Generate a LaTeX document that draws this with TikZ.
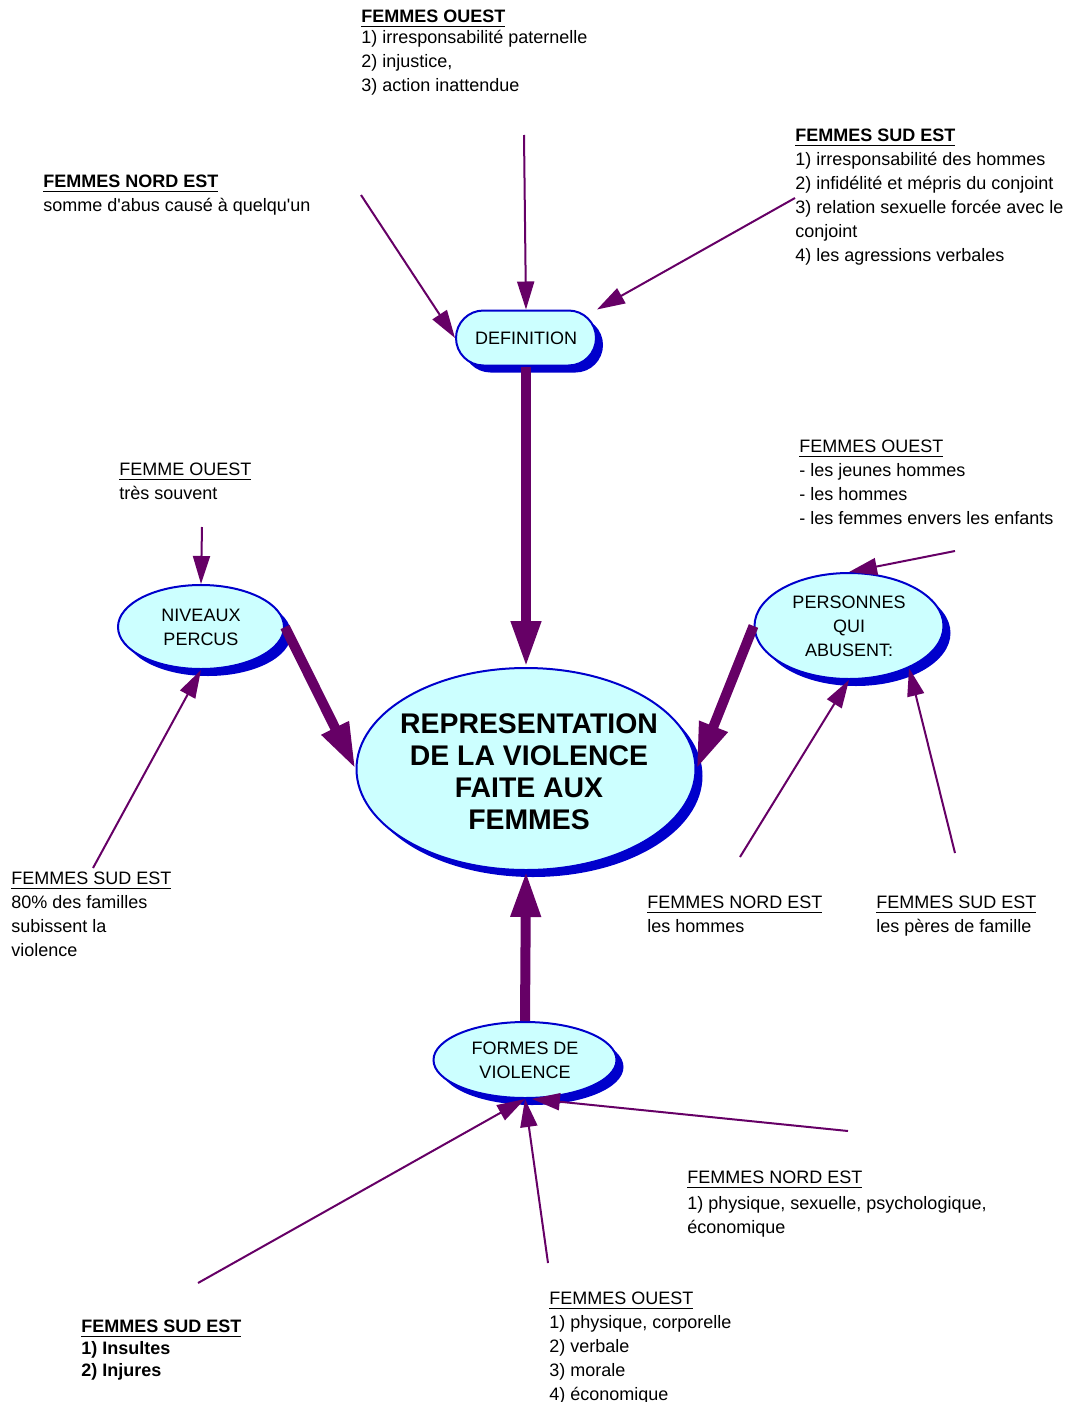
\documentclass[tikz,border=0pt]{standalone}
\usepackage{fontspec}
\setmainfont{Liberation Sans}
\usetikzlibrary{arrows.meta,shapes.geometric,shadows}
\definecolor{violetfleche}{HTML}{660066}
\definecolor{bleubord}{HTML}{0000CC}
\definecolor{cyanfond}{HTML}{CCFFFF}

\begin{document}
\begin{tikzpicture}[x=0.5pt,y=-0.5pt,
	ombre/.style={drop shadow={shadow xshift=3.5pt,shadow yshift=-3.5pt,fill=bleubord,opacity=1}},
	bulle/.style={ellipse,draw=bleubord,line width=1pt,fill=cyanfond,inner sep=0pt,align=center,
	font=\fontsize{9}{12}\selectfont,ombre},
	cadre/.style={rectangle,rounded corners=13.75pt,draw=bleubord,line width=1pt,fill=cyanfond,
	minimum width=70pt,minimum height=27.5pt,inner sep=0pt,font=\fontsize{9}{12}\selectfont,ombre},
	texte/.style={anchor=north west,align=left,inner sep=0pt,font=\fontsize{9}{12}\selectfont},
	fleche/.style={draw=violetfleche,line width=1pt,-{Triangle[length=14pt,width=8.5pt]},fill=violetfleche},
	grosse/.style={draw=violetfleche,line width=5pt,-{Triangle[length=23pt,width=14pt]},fill=violetfleche}]
\useasboundingbox (0,0) rectangle (1066,1402);
\node[texte] (ouestHaut) at (361,10) {\textbf{\underline{FEMMES OUEST}}\\[-1.5pt]1) irresponsabilité paternelle\\2) injustice,\\3) action inattendue};
\node[texte] (nordEstHaut) at (43,175) {\textbf{\underline{FEMMES NORD EST}}\\somme d\textquotesingle abus causé à quelqu\textquotesingle un};
\node[texte] (sudEstHaut) at (795,129) {\textbf{\underline{FEMMES SUD EST}}\\1) irresponsabilité des hommes\\2) infidélité et mépris du conjoint\\3) relation sexuelle forcée avec le\\conjoint\\4) les agressions verbales};
\node[texte] (ouestDroite) at (799,440) {\underline{FEMMES OUEST}\\- les jeunes hommes\\- les hommes\\- les femmes envers les enfants};
\node[texte] (ouestGauche) at (119,463) {\underline{FEMME OUEST}\\très souvent};
\node[texte] (sudEstGauche) at (11,872) {\underline{FEMMES SUD EST}\\80\% des familles\\subissent la\\violence};
\node[texte] (nordEstMilieu) at (647,896) {\underline{FEMMES NORD EST}\\les hommes};
\node[texte] (sudEstMilieu) at (876,896) {\underline{FEMMES SUD EST}\\les pères de famille};
\node[texte] (nordEstBas) at (687,1171) {\underline{FEMMES NORD EST}\\[1pt]1) physique, sexuelle, psychologique,\\économique};
\node[texte] (ouestBas) at (549,1292) {\underline{FEMMES OUEST}\\1) physique, corporelle\\2) verbale\\3) morale\\4) économique};
\node[texte,font=\fontsize{9}{11}\selectfont\bfseries] (sudEstBas) at (81,1320) {\underline{FEMMES SUD EST}\\1) Insultes\\2) Injures};

\node[cadre] (definition) at (526,338) {DEFINITION};
\node[bulle,minimum width=169.5pt,minimum height=101pt,inner sep=-8pt,
	font=\fontsize{14.2}{16}\selectfont\bfseries] (centre) at (526,769) {};
\node[align=center,inner sep=0pt,font=\fontsize{14.2}{16}\selectfont\bfseries] (titre) at (529,772) {REPRESENTATION\\DE LA VIOLENCE\\FAITE AUX\\FEMMES};
\node[bulle,minimum width=83pt,minimum height=42pt] (niveaux) at (201,627) {NIVEAUX\\PERCUS};
\node[bulle,minimum width=94.5pt,minimum height=53pt] (personnes) at (849,626) {PERSONNES\\QUI\\ABUSENT:};
\node[bulle,minimum width=91.5pt,minimum height=38pt] (formes) at (525,1060) {FORMES DE\\VIOLENCE};

\coordinate (depNordEst) at (361,195);
\coordinate (depOuest) at (524,135);
\coordinate (depSudEst) at (795,198);
\coordinate (depFemmeOuest) at (202,527);
\coordinate (depSudEstGauche) at (93,868);
\coordinate (depOuestDroite) at (955,551);
\coordinate (depNordEstMilieu) at (740,857);
\coordinate (depSudEstMilieu) at (955,853);
\coordinate (depSudEstBas) at (198,1283);
\coordinate (depOuestBas) at (548,1263);
\coordinate (depNordEstBas) at (848,1131);

\draw[fleche] (depNordEst) -- (definition.west);
\draw[fleche] (depOuest) -- (definition.north);
\draw[fleche] (depSudEst) -- (definition.north east);
\draw[fleche] (depFemmeOuest) -- (niveaux.north);
\draw[fleche] (depSudEstGauche) -- (niveaux.south);
\draw[fleche] (depOuestDroite) -- (personnes.north);
\draw[fleche] (depNordEstMilieu) -- (personnes.south);
\draw[fleche] (depSudEstMilieu) -- (personnes.-35);
\draw[fleche] (depSudEstBas) -- (formes.south);
\draw[fleche] (depOuestBas) -- (formes.south);
\draw[fleche] (depNordEstBas) -- (formes.-80);

\draw[grosse] (definition.south) -- (centre.north);
\draw[grosse] (niveaux.east) -- (centre.west);
\draw[grosse] (personnes.west) -- (centre.east);
\draw[grosse] (formes.north) -- (centre.south);
\end{tikzpicture}
\end{document}
